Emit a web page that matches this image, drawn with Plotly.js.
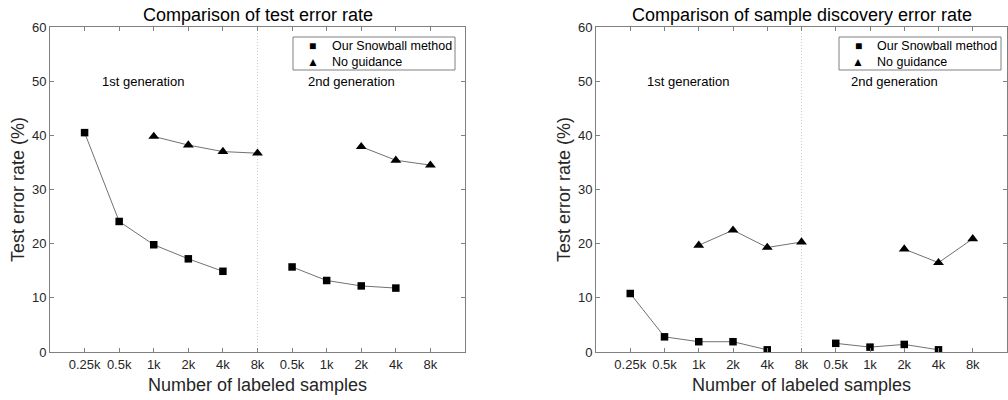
<!DOCTYPE html>
<html>
<head>
<meta charset="utf-8">
<script src="https://cdn.plot.ly/plotly-3.0.1.min.js"></script>
<style>html,body{margin:0;padding:0;background:#fff;}#chart{width:1008px;height:400px;}</style>
</head>
<body>
<div id="chart"></div>
<script>
// ---- data ----
const tickLabels = ['0.25k','0.5k','1k','2k','4k','8k','0.5k','1k','2k','4k','8k'];
const positions = tickLabels.map((_, i) => i + 1);
const genBoundaryIndex = 6; // 8k of 1st generation

const seriesNames = ['Our Snowball method', 'No guidance'];
const legendGlyphs = ['\u25A0', '\u25B2'];

// Comparison of test error rate
const testSnowball   = [40.5, 24.1, 19.8, 17.2, 14.9, null, 15.7, 13.2, 12.2, 11.8, null];
const testNoGuidance = [null, null, 39.8, 38.2, 37.0, 36.7, null, null, 37.9, 35.4, 34.5];

// Comparison of sample discovery error rate
const discSnowball   = [10.8, 2.8, 1.9, 1.9, 0.4, null, 1.6, 0.9, 1.4, 0.4, null];
const discNoGuidance = [null, null, 19.7, 22.5, 19.3, 20.3, null, null, 19.0, 16.5, 20.9];

const titles = ['Comparison of test error rate', 'Comparison of sample discovery error rate'];
const genLabels = ['1st generation', '2nd generation'];
const xTitle = 'Number of labeled samples';
const yTitle = 'Test error rate (%)';

// ---- styling ----
const FONT = 'Liberation Sans, Arial, Helvetica, sans-serif';
const lineStyle = {color: '#4d4d4d', width: 0.8};
const markerSpecs = [
  {symbol: 'square', size: 7.5, color: '#000'},
  {symbol: 'triangle-up', size: 9.5, color: '#000'}
];
const glyphSizes = [12, 12];

function makeTraces(seriesList, xa, ya) {
  const traces = [];
  seriesList.forEach((vals) => {
    traces.push({x: positions, y: vals, xaxis: xa, yaxis: ya, type: 'scatter', mode: 'lines',
      line: lineStyle, connectgaps: false, showlegend: false, hoverinfo: 'skip'});
  });
  seriesList.forEach((vals, k) => {
    traces.push({x: positions, y: vals, xaxis: xa, yaxis: ya, type: 'scatter', mode: 'markers',
      marker: markerSpecs[k], name: seriesNames[k], showlegend: false});
  });
  return traces;
}

const data = [
  ...makeTraces([testSnowball, testNoGuidance], 'x', 'y'),
  ...makeTraces([discSnowball, discNoGuidance], 'x2', 'y2')
];

const W = 1008, H = 400;
const dom1 = [50 / W, 465 / W];
const dom2 = [596 / W, 1007 / W];
const ydom = [1 - 352 / H, 1 - 27 / H];

function xAxis(domain, anchor) {
  return {
    domain: domain, anchor: anchor, range: [0, positions.length + 1],
    tickmode: 'array', tickvals: positions, ticktext: tickLabels,
    ticks: 'inside', ticklen: 4, tickcolor: '#808080', mirror: 'ticks',
    showline: true, linecolor: '#808080', linewidth: 1,
    showgrid: false, zeroline: false,
    tickfont: {family: FONT, size: 13, color: '#262626'},
    title: {text: xTitle, font: {family: FONT, size: 18, color: '#262626'}, standoff: 7},
    automargin: false, fixedrange: true
  };
}
function yAxis(domain, anchor) {
  return {
    domain: domain, anchor: anchor, range: [0, 60], dtick: 10,
    ticks: 'inside', ticklen: 4, tickcolor: '#808080', mirror: 'ticks',
    showline: true, linecolor: '#808080', linewidth: 1,
    showgrid: false, zeroline: false,
    tickfont: {family: FONT, size: 13, color: '#262626'},
    title: {text: yTitle, font: {family: FONT, size: 18, color: '#262626'}, standoff: 2},
    automargin: false, fixedrange: true
  };
}

const shapes = ['x', 'x2'].map((xr, i) => ({
  type: 'line', xref: xr, yref: i === 0 ? 'y' : 'y2',
  x0: positions[genBoundaryIndex - 1], x1: positions[genBoundaryIndex - 1], y0: 0, y1: 60,
  line: {color: '#cfcfcf', width: 1, dash: '1px,2px'}, layer: 'below'
}));

const annotations = [];
[dom1, dom2].forEach((d, i) => {
  annotations.push({text: titles[i], xref: 'paper', yref: 'paper', x: (d[0] + d[1]) / 2, y: 1 - 15 / H,
    xanchor: 'center', yanchor: 'middle', showarrow: false,
    font: {family: FONT, size: 18, color: '#000'}});
  const xr = i === 0 ? 'x' : 'x2', yr = i === 0 ? 'y' : 'y2';
  annotations.push({text: genLabels[0], xref: xr, yref: yr, x: 2.7, y: 50, showarrow: false,
    xanchor: 'center', yanchor: 'middle', font: {family: FONT, size: 13, color: '#000'}});
  annotations.push({text: genLabels[1], xref: xr, yref: yr, x: 8.72, y: 50, showarrow: false,
    xanchor: 'center', yanchor: 'middle', font: {family: FONT, size: 13, color: '#000'}});
});

// legend boxes (pixel layout)
const legendBoxes = [
  {left: 293, right: 455, top: 37, bottom: 70, glyphX: 312.5, textX: 330},
  {left: 839, right: 1001, top: 37, bottom: 70, glyphX: 858, textX: 875}
];
const legendRowsY = [45.5, 61.5];
legendBoxes.forEach((b) => {
  shapes.push({type: 'rect', xref: 'paper', yref: 'paper',
    x0: b.left / W, x1: b.right / W, y0: 1 - b.bottom / H, y1: 1 - b.top / H,
    line: {color: '#808080', width: 1}, fillcolor: '#fff', layer: 'above'});
  seriesNames.forEach((name, k) => {
    annotations.push({text: legendGlyphs[k], xref: 'paper', yref: 'paper',
      x: b.glyphX / W, y: 1 - legendRowsY[k] / H, xanchor: 'center', yanchor: 'middle',
      showarrow: false, font: {family: FONT, size: glyphSizes[k], color: '#000'}});
    annotations.push({text: name, xref: 'paper', yref: 'paper',
      x: b.textX / W, y: 1 - legendRowsY[k] / H, xanchor: 'left', yanchor: 'middle',
      showarrow: false, font: {family: FONT, size: 12.5, color: '#000'}});
  });
});

const layout = {
  width: W, height: H,
  margin: {l: 0, r: 0, t: 0, b: 0},
  paper_bgcolor: '#fff', plot_bgcolor: '#fff',
  showlegend: false,
  xaxis: xAxis(dom1, 'y'),
  yaxis: yAxis(ydom, 'x'),
  xaxis2: xAxis(dom2, 'y2'),
  yaxis2: yAxis(ydom, 'x2'),
  shapes: shapes,
  annotations: annotations
};

Plotly.newPlot('chart', data, layout, {displayModeBar: false, staticPlot: true});
</script>
</body>
</html>
